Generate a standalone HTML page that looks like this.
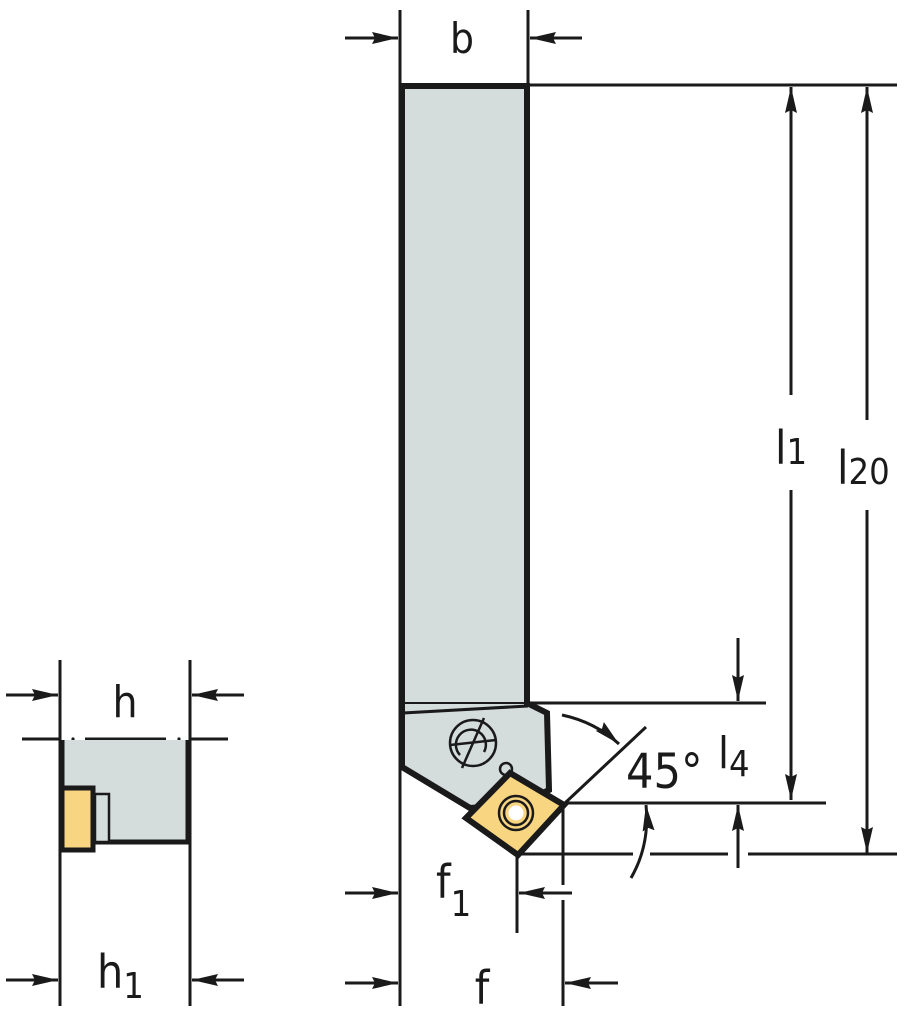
<!DOCTYPE html>
<html><head><meta charset="utf-8"><style>
html,body{margin:0;padding:0;background:#fff;}
svg{display:block;}
text{font-family:"DejaVu Sans Condensed","DejaVu Sans","Liberation Sans",sans-serif;fill:#1a1a1a;}
</style></head><body>
<svg width="913" height="1024" viewBox="0 0 913 1024" xmlns="http://www.w3.org/2000/svg">
<defs>
<marker id="a" viewBox="0 0 26 12" refX="26" refY="6" markerWidth="26" markerHeight="12" markerUnits="userSpaceOnUse" orient="auto">
<path d="M0,0 L26,6 L0,12 L3,6 Z" fill="#1a1a1a"/></marker>
</defs>
<g stroke="#1a1a1a" stroke-width="3" fill="none">
<line x1="400" y1="10" x2="400" y2="1006"/>
<line x1="528" y1="10" x2="528" y2="86"/>
<line x1="345" y1="38" x2="398" y2="38" marker-end="url(#a)"/>
<line x1="582" y1="38" x2="530" y2="38" marker-end="url(#a)"/>
<line x1="528" y1="85" x2="897" y2="85"/>
<line x1="791" y1="395" x2="791" y2="87" marker-end="url(#a)"/>
<line x1="791" y1="490" x2="791" y2="800" marker-end="url(#a)"/>
<line x1="867" y1="420" x2="867" y2="87" marker-end="url(#a)"/>
<line x1="867" y1="510" x2="867" y2="853" marker-end="url(#a)"/>
<line x1="530" y1="703" x2="766" y2="703"/>
<line x1="738" y1="638" x2="738" y2="701" marker-end="url(#a)"/>
<line x1="565" y1="803" x2="826" y2="803"/>
<line x1="738" y1="868" x2="738" y2="805" marker-end="url(#a)"/>
<line x1="520" y1="854" x2="633" y2="854"/>
<line x1="650" y1="854" x2="728" y2="854"/>
<line x1="748" y1="854" x2="897" y2="854"/>
<line x1="565" y1="803" x2="646" y2="727"/>
<path d="M562,715 Q595,722 619,744" marker-end="url(#a)"/>
<path d="M631,878 Q650,845 646,805" marker-end="url(#a)"/>
<line x1="517" y1="855" x2="517" y2="933"/>
<line x1="563" y1="805" x2="563" y2="885"/>
<line x1="563" y1="900" x2="563" y2="1006"/>
<line x1="345" y1="893" x2="398" y2="893" marker-end="url(#a)"/>
<line x1="572" y1="893" x2="519" y2="893" marker-end="url(#a)"/>
<line x1="345" y1="983" x2="398" y2="983" marker-end="url(#a)"/>
<line x1="618" y1="983" x2="565" y2="983" marker-end="url(#a)"/>
<line x1="60" y1="660" x2="60" y2="1006"/>
<line x1="190" y1="660" x2="190" y2="1006"/>
<line x1="6" y1="695" x2="58" y2="695" marker-end="url(#a)"/>
<line x1="244" y1="695" x2="192" y2="695" marker-end="url(#a)"/>
<line x1="6" y1="980" x2="58" y2="980" marker-end="url(#a)"/>
<line x1="244" y1="980" x2="192" y2="980" marker-end="url(#a)"/>
<line x1="22" y1="739" x2="60" y2="739"/>
<line x1="85" y1="739" x2="166" y2="739"/>
<line x1="190" y1="739" x2="228" y2="739"/>
</g>
<circle cx="73" cy="739" r="1.6" fill="#1a1a1a"/>
<circle cx="179" cy="739" r="1.6" fill="#1a1a1a"/>
<path d="M402,86 L527,86 L527,703 L547,713 L549,790 L520,804 L470,808 L402,767 Z" fill="#d5dcdc" stroke="#1a1a1a" stroke-width="6" stroke-linejoin="miter"/>
<line x1="403" y1="713" x2="528" y2="706" stroke="#1a1a1a" stroke-width="3"/>
<line x1="402" y1="703" x2="527" y2="703" stroke="#1a1a1a" stroke-width="2"/>
<g stroke="#1a1a1a" stroke-width="2.5" fill="none">
<circle cx="473" cy="743" r="23"/>
<path d="M460,755 A15,15 0 1 1 484,752"/>
<line x1="462" y1="768" x2="484" y2="718"/>
<line x1="450" y1="745" x2="496" y2="740"/>
<circle cx="506" cy="769" r="6" fill="#d5dcdc"/>
</g>
<polygon points="510,773 564,805 518,855 466,818" fill="#f8d580" stroke="#1a1a1a" stroke-width="6" stroke-linejoin="miter"/>
<circle cx="516" cy="813" r="17" fill="none" stroke="#1a1a1a" stroke-width="2.5"/>
<circle cx="516" cy="813" r="12" fill="#f8d580" stroke="#1a1a1a" stroke-width="2.5"/>
<circle cx="516" cy="813" r="7.5" fill="#fff"/>
<rect x="62" y="740" width="126" height="102" fill="#d5dcdc"/>
<path d="M62,740 L62,842 L188,842 L188,740" fill="none" stroke="#1a1a1a" stroke-width="5"/>
<rect x="95" y="794" width="14" height="48" fill="#d5dcdc" stroke="#1a1a1a" stroke-width="2.5"/>
<rect x="62" y="788" width="31" height="62" fill="#f8d580" stroke="#1a1a1a" stroke-width="5"/>
<text x="462" y="53" font-size="42" text-anchor="middle">b</text>
<text x="775" y="464" font-size="46">l<tspan font-size="36">1</tspan></text>
<text x="837" y="484" font-size="46">l<tspan font-size="36">20</tspan></text>
<text x="626" y="788" font-size="48">45°</text>
<text x="718" y="768" font-size="44">l<tspan font-size="36" dy="8">4</tspan></text>
<text x="436" y="898" font-size="46">f<tspan font-size="36" dy="18">1</tspan></text>
<text x="482" y="1004" font-size="46" text-anchor="middle">f</text>
<text x="125" y="717" font-size="44" text-anchor="middle">h</text>
<text x="97" y="988" font-size="46">h<tspan font-size="36" dy="10">1</tspan></text>
</svg>
</body></html>
